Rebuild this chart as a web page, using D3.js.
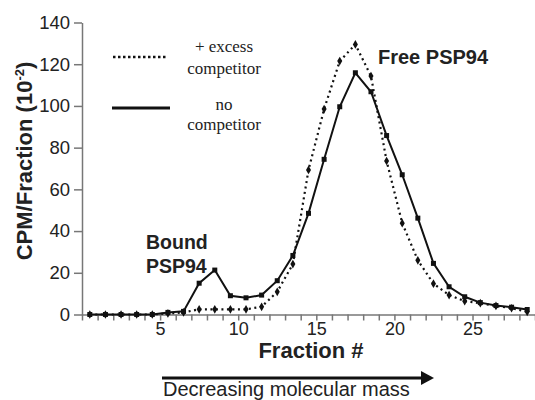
<!DOCTYPE html>
<html>
<head>
<meta charset="utf-8">
<script src="https://d3js.org/d3.v7.min.js"></script>
<style>
body { margin: 0; background: #fff; }
svg { display: block; font-family: "Liberation Sans", Arial, sans-serif; }
</style>
</head>
<body>
<svg width="535" height="400"></svg>
<script>
var fractions = d3.range(1, 30);
// no competitor (solid line, squares)
var noCompetitor = [0, 0, 0, 0, 0, 1, 1.5, 15, 21.3, 9, 8, 9.3, 16.2, 28.3, 48.5, 74.4, 99.6, 115.9, 106.8, 85.8, 67, 46.2, 24.5, 13.3, 8.5, 5.7, 4.3, 3.5, 2.4];
// + excess competitor (dotted line, diamonds)
var excessCompetitor = [0, 0, 0, 0, 0, 0.5, 1, 2.5, 2.5, 2.5, 2.5, 3.7, 10.9, 24.2, 69.3, 98.5, 121.5, 129.5, 114.3, 73.6, 43.8, 26, 14.8, 9.3, 6.4, 5.4, 4.1, 3, 1.3];
var yTicks = [0, 20, 40, 60, 80, 100, 120, 140];
var xTickLabels = [5, 10, 15, 20, 25];

var svg = d3.select("svg");

// category axis: ticks between fractions, points at centre of each slot
var x = d3.scaleLinear().domain([0, 29]).range([82, 535]);
var y = d3.scaleLinear().domain([0, 140]).range([314.5, 22.5]);
var px = function(f) { return x(f - 0.5); };

var yAxis = svg.append("g")
  .attr("transform", "translate(82,0)")
  .call(d3.axisLeft(y).tickValues(yTicks).tickSize(8).tickSizeOuter(0).tickPadding(4));
yAxis.selectAll("text").attr("font-size", "18.5px").attr("fill", "#222").attr("font-family", "Liberation Sans, Arial");
yAxis.selectAll("line, path").attr("stroke", "#777").attr("stroke-width", 1.5);

var xAxis = svg.append("g")
  .attr("transform", "translate(0,314.5)")
  .call(d3.axisBottom(x).tickValues(d3.range(0, 30)).tickSize(6).tickSizeOuter(0).tickPadding(2)
    .tickFormat(function(d) { return xTickLabels.indexOf(d) >= 0 ? d : ""; }));
xAxis.selectAll("text").attr("font-size", "18px").attr("fill", "#222").attr("font-family", "Liberation Sans, Arial");
xAxis.selectAll("line, path").attr("stroke", "#777").attr("stroke-width", 1.5);

var line = d3.line()
  .x(function(d, i) { return px(fractions[i]); })
  .y(function(d) { return y(d); });

svg.append("path")
  .attr("d", line(excessCompetitor))
  .attr("fill", "none")
  .attr("stroke", "#111")
  .attr("stroke-width", 2.2)
  .attr("stroke-dasharray", "2,3.5");

svg.append("path")
  .attr("d", line(noCompetitor))
  .attr("fill", "none")
  .attr("stroke", "#111")
  .attr("stroke-width", 2);

svg.selectAll(".dia").data(excessCompetitor).enter().append("path")
  .attr("d", d3.symbol().type(d3.symbolDiamond).size(22))
  .attr("transform", function(d, i) { return "translate(" + px(fractions[i]) + "," + y(d) + ")"; })
  .attr("fill", "#111");

svg.selectAll(".sq").data(noCompetitor).enter().append("rect")
  .attr("x", function(d, i) { return px(fractions[i]) - 2.5; })
  .attr("y", function(d) { return y(d) - 2.5; })
  .attr("width", 5)
  .attr("height", 5)
  .attr("fill", "#111");

// legend
svg.append("line").attr("x1", 113).attr("x2", 168).attr("y1", 57).attr("y2", 57)
  .attr("stroke", "#111").attr("stroke-width", 2.5).attr("stroke-dasharray", "2.5,2.5");
svg.append("line").attr("x1", 112).attr("x2", 170).attr("y1", 108).attr("y2", 108)
  .attr("stroke", "#111").attr("stroke-width", 3);

var leg = svg.append("g").attr("font-family", "Liberation Serif, Times New Roman, serif")
  .attr("font-size", "17px").attr("text-anchor", "middle").attr("fill", "#222");
leg.append("text").attr("x", 224).attr("y", 52).text("+ excess");
leg.append("text").attr("x", 224).attr("y", 74).text("competitor");
leg.append("text").attr("x", 224).attr("y", 110).text("no");
leg.append("text").attr("x", 224).attr("y", 130).text("competitor");

// annotations
svg.append("text").attr("x", 378).attr("y", 64).attr("font-weight", "bold").attr("font-size", "20px")
  .attr("fill", "#222").text("Free PSP94");
svg.append("text").attr("x", 146).attr("y", 249).attr("font-weight", "bold").attr("font-size", "19.5px")
  .attr("fill", "#222").text("Bound");
svg.append("text").attr("x", 146).attr("y", 273).attr("font-weight", "bold").attr("font-size", "19.5px")
  .attr("fill", "#222").text("PSP94");

// axis titles
var yt = svg.append("text")
  .attr("transform", "translate(32,161) rotate(-90)")
  .attr("text-anchor", "middle").attr("font-weight", "bold").attr("font-size", "22px").attr("fill", "#222");
yt.append("tspan").text("CPM/Fraction (10");
yt.append("tspan").attr("font-size", "13px").attr("dy", "-8").text("-2");
yt.append("tspan").attr("dy", "8").text(")");

svg.append("text").attr("x", 311).attr("y", 358).attr("text-anchor", "middle")
  .attr("font-weight", "bold").attr("font-size", "22px").attr("fill", "#222").text("Fraction #");

// arrow
svg.append("line").attr("x1", 162).attr("x2", 424).attr("y1", 378).attr("y2", 378)
  .attr("stroke", "#111").attr("stroke-width", 3);
svg.append("path").attr("d", "M421,371L434,378L421,385Z").attr("fill", "#111");
svg.append("text").attr("x", 163).attr("y", 396).attr("font-size", "20px").attr("fill", "#222")
  .text("Decreasing molecular mass");
</script>
</body>
</html>
